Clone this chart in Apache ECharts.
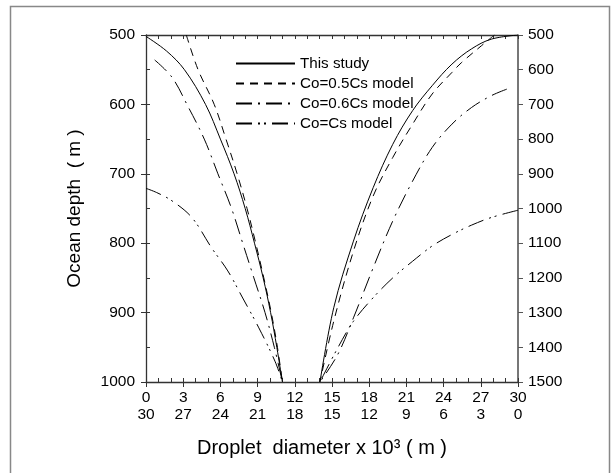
<!DOCTYPE html>
<html><head><meta charset="utf-8">
<script src="https://cdn.jsdelivr.net/npm/echarts@6/dist/echarts.min.js"></script>
<style>html,body{margin:0;padding:0;background:#fff}#c{width:616px;height:473px}</style>
</head><body><div id="c"></div><script>
// Series names (legend)
const seriesNames = ['This study', 'Co=0.5Cs model', 'Co=0.6Cs model', 'Co=Cs model'];
// Axis ranges / tick labels
const xRange = [0, 30];
const xStep = 3;
const leftDepthRange = [500, 1000];
const rightDepthRange = [500, 1500];
const depthStep = 100;

// Left group: [droplet diameter (bottom axis, 0..30), depth (left axis)]
const leftThisStudy = [[0,502],[1.65,523],[3.1,550],[4.8,600],[6.0,650],[7.1,700],[8.0,750],[8.75,800],[9.45,850],[10.05,900],[10.55,950],[11.0,1000]];
const leftHalfCs    = [[3.25,500],[4.2,550],[5.5,600],[6.45,650],[7.35,700],[8.15,750],[8.85,800],[9.5,850],[10.1,900],[10.6,950],[11.0,1000]];
const leftSixCs     = [[0.7,536],[2.1,561],[3.3,600],[4.7,650],[5.8,700],[6.9,750],[7.8,800],[8.7,850],[9.6,900],[10.35,950],[11.0,1000]];
const leftFullCs    = [[0,721],[0.86,727],[2.1,739],[3.7,763],[5.3,807],[6.6,840],[7.8,879],[9.1,922],[10.4,970],[11.0,1000]];

// Right group: [droplet diameter (second bottom axis, 30..0), depth (right axis)]
const rightThisStudy = [[0,500],[2.16,512],[3.75,540],[5.33,584],[6.92,646],[8.5,718],[10.1,815],[11.68,940],[13.27,1094],[14.86,1286],[15.97,1500]];
const rightHalfCs    = [[1.9,500],[2.95,531],[4.54,579],[5.33,608],[6.92,670],[8.5,757],[10.1,853],[11.68,964],[13.27,1123],[14.86,1325],[15.97,1500]];
const rightSixCs     = [[0.9,656],[2.16,675],[3.75,709],[5.33,757],[6.92,824],[8.5,921],[10.1,1036],[11.68,1171],[13.27,1315],[14.54,1421],[15.97,1500]];
const rightFullCs    = [[0,1005],[2.16,1026],[3.75,1048],[5.33,1075],[6.92,1108],[8.5,1152],[10.1,1200],[11.68,1257],[13.27,1325],[14.54,1402],[15.97,1500]];

const FONT = 'Liberation Sans, Arial, sans-serif';
const dashes = ['solid', [8, 6], [16, 6, 2, 6], [16, 6, 2, 4, 2, 6]];
const axisColor = '#333';

function mk(name, data, dash, xi, yi) {
  return {
    type: 'line', name: name, data: data, xAxisIndex: xi, yAxisIndex: yi,
    symbol: 'none', showSymbol: false, smooth: 0.35, silent: true, animation: false,
    itemStyle: { color: '#000', opacity: 0 },
    lineStyle: { color: '#000', width: 1, type: dash }
  };
}
const plain = v => String(v);

const chart = echarts.init(document.getElementById('c'), null, { renderer: 'canvas' });
const lab = { color: '#000', fontSize: 15.5, fontFamily: FONT, formatter: plain };
chart.setOption({
  animation: false,
  backgroundColor: '#fff',
  grid: { left: 146, right: 98, top: 35, bottom: 91, containLabel: false },
  legend: {
    orient: 'vertical', left: 230, top: 51, itemWidth: 59, itemHeight: 14, itemGap: 5,
    data: seriesNames,
    itemStyle: { opacity: 0 },
    textStyle: { color: '#000', fontSize: 15.2, fontFamily: FONT, lineHeight: 14 },
    inactiveColor: '#000'
  },
  xAxis: [
    { type: 'value', position: 'bottom', min: xRange[0], max: xRange[1], interval: xStep,
      axisLine: { show: true, lineStyle: { color: axisColor, width: 1.3 } },
      axisTick: { show: true, inside: false, length: 5, lineStyle: { color: axisColor } },
      axisLabel: Object.assign({ margin: 8 }, lab), splitLine: { show: false } },
    { type: 'value', position: 'bottom', offset: 17, inverse: true, min: xRange[0], max: xRange[1], interval: xStep,
      axisLine: { show: false }, axisTick: { show: false },
      axisLabel: Object.assign({ margin: 8 }, lab), splitLine: { show: false } },
    { type: 'value', position: 'bottom', min: xRange[0], max: xRange[1], interval: 1,
      axisLine: { show: false }, axisTick: { show: true, inside: true, length: 4, lineStyle: { color: axisColor } },
      axisLabel: { show: false }, splitLine: { show: false } },
    { type: 'value', position: 'top', min: xRange[0], max: xRange[1], interval: 1,
      axisLine: { show: true, lineStyle: { color: axisColor, width: 1.3 } },
      axisTick: { show: true, inside: true, length: 4, lineStyle: { color: axisColor } },
      axisLabel: { show: false }, splitLine: { show: false } }
  ],
  yAxis: [
    { type: 'value', position: 'left', inverse: true, min: leftDepthRange[0], max: leftDepthRange[1], interval: depthStep,
      name: 'Ocean depth  ( m )', nameLocation: 'middle', nameGap: 62, nameRotate: 90,
      nameTextStyle: { color: '#000', fontSize: 19, fontFamily: FONT },
      axisLine: { show: true, lineStyle: { color: axisColor, width: 1.3 } },
      axisTick: { show: true, inside: false, length: 5, lineStyle: { color: axisColor } },
      axisLabel: Object.assign({ margin: 11 }, lab), splitLine: { show: false } },
    { type: 'value', position: 'right', inverse: true, min: rightDepthRange[0], max: rightDepthRange[1], interval: depthStep,
      axisLine: { show: true, lineStyle: { color: '#555', width: 1.6 } },
      axisTick: { show: true, inside: false, length: 5, lineStyle: { color: '#555' } },
      axisLabel: Object.assign({ margin: 10 }, lab), splitLine: { show: false } },
    { type: 'value', position: 'left', inverse: true, min: leftDepthRange[0], max: leftDepthRange[1], interval: 50,
      axisLine: { show: false }, axisTick: { show: true, inside: true, length: 4, lineStyle: { color: axisColor } },
      axisLabel: { show: false }, splitLine: { show: false } }
  ],
  graphic: [
    { type: 'rect', shape: { x: 10.5, y: 6.5, width: 599, height: 480 }, style: { fill: 'none', stroke: '#888', lineWidth: 1.5 }, silent: true },
    { type: 'text', x: 322, y: 448, style: { text: 'Droplet  diameter x 10³ ( m )', fill: '#000', fontSize: 20, fontFamily: FONT, align: 'center', verticalAlign: 'middle' }, silent: true }
  ],
  series: [
    mk(seriesNames[0], leftThisStudy, dashes[0], 0, 0),
    mk(seriesNames[1], leftHalfCs, dashes[1], 0, 0),
    mk(seriesNames[2], leftSixCs, dashes[2], 0, 0),
    mk(seriesNames[3], leftFullCs, dashes[3], 0, 0),
    mk(seriesNames[0], rightThisStudy, dashes[0], 1, 1),
    mk(seriesNames[1], rightHalfCs, dashes[1], 1, 1),
    mk(seriesNames[2], rightSixCs, dashes[2], 1, 1),
    mk(seriesNames[3], rightFullCs, dashes[3], 1, 1)
  ]
});
</script></body></html>
